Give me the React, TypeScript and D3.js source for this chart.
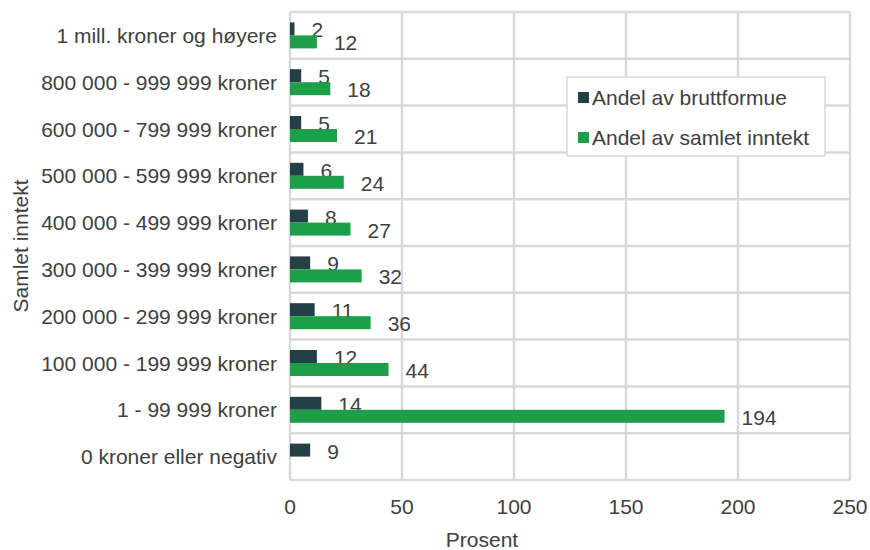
import React from 'react';
import * as d3 from 'd3';

const categories = [
  '1 mill. kroner og høyere',
  '800 000 - 999 999 kroner',
  '600 000 - 799 999 kroner',
  '500 000 - 599 999 kroner',
  '400 000 - 499 999 kroner',
  '300 000 - 399 999 kroner',
  '200 000 - 299 999 kroner',
  '100 000 - 199 999 kroner',
  '1 - 99 999 kroner',
  '0 kroner eller negativ',
];
const bruttoformue = [2, 5, 5, 6, 8, 9, 11, 12, 14, 9];
const inntekt: (number | null)[] = [12, 18, 21, 24, 27, 32, 36, 44, 194, null];
const xTicks = [0, 50, 100, 150, 200, 250];
const seriesNames = ['Andel av bruttformue', 'Andel av samlet inntekt'];
const colors = ['#253f47', '#1d9f4a'];

const W = 870;
const H = 550;
const left = 290;
const right = 850;
const top = 12;
const bottom = 480;
const font = 'Liberation Sans, Arial, sans-serif';
const fs = 21;
const textColor = '#404040';
const gridColor = '#d9d9d9';

export default function App() {
  const x = d3.scaleLinear().domain([0, 250]).range([left, right]);
  const y = d3.scaleBand().domain(categories).range([top, bottom]).paddingInner(0).paddingOuter(0);
  const bh = 13;

  return (
    <svg width={W} height={H} style={{ position: 'absolute', left: 0, top: 0, background: '#fff' }} fontFamily={font}>
      {/* grid */}
      {xTicks.map(t => (
        <line key={'v' + t} x1={x(t)} x2={x(t)} y1={top} y2={bottom} stroke={gridColor} strokeWidth={2.5} />
      ))}
      {categories.map((c, i) => (
        <line key={'h' + i} x1={left} x2={right} y1={y(c)!} y2={y(c)!} stroke={gridColor} strokeWidth={2.5} />
      ))}
      <line x1={left} x2={right} y1={bottom} y2={bottom} stroke={gridColor} strokeWidth={2.5} />

      {/* bars */}
      {categories.map((c, i) => {
        const cy = y(c)! + y.bandwidth() / 2;
        const g = inntekt[i];
        return (
          <g key={c}>
            <rect x={x(0)} y={cy - bh} width={x(bruttoformue[i]) - x(0)} height={bh} fill={colors[0]} />
            <text x={x(bruttoformue[i]) + 17} y={cy - bh / 2 + 1} dominantBaseline="central" fontSize={fs} fill={textColor}>
              {bruttoformue[i]}
            </text>
            {g !== null && (
              <>
                <rect x={x(0)} y={cy} width={x(g) - x(0)} height={bh} fill={colors[1]} />
                <text x={x(g) + 17} y={cy + bh / 2 + 1} dominantBaseline="central" fontSize={fs} fill={textColor}>
                  {g}
                </text>
              </>
            )}
          </g>
        );
      })}

      {/* category labels */}
      {categories.map(c => (
        <text key={'l' + c} x={277} y={y(c)! + y.bandwidth() / 2} textAnchor="end" dominantBaseline="central" fontSize={fs} fill={textColor}>
          {c}
        </text>
      ))}

      {/* x tick labels */}
      {xTicks.map(t => (
        <text key={'t' + t} x={x(t)} y={506} textAnchor="middle" dominantBaseline="central" fontSize={fs} fill={textColor}>
          {t}
        </text>
      ))}

      <text x={482} y={539} textAnchor="middle" dominantBaseline="central" fontSize={fs} fill={textColor}>Prosent</text>
      <text transform={`translate(20,${(top + bottom) / 2}) rotate(-90)`} textAnchor="middle" dominantBaseline="central" fontSize={fs} fill={textColor}>
        Samlet inntekt
      </text>

      {/* legend */}
      <rect x={567} y={77} width={258} height={79} fill="#fff" stroke={gridColor} strokeWidth={1.5} />
      {seriesNames.map((s, i) => (
        <g key={s}>
          <rect x={578} y={92 + i * 40} width={11} height={11} fill={colors[i]} />
          <text x={592} y={97.5 + i * 40} dominantBaseline="central" fontSize={fs} fill={textColor}>{s}</text>
        </g>
      ))}
    </svg>
  );
}
